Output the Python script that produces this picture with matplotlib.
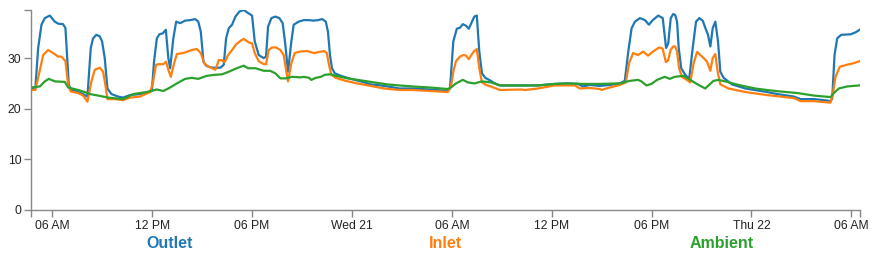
import matplotlib
matplotlib.use("Agg")
import matplotlib.pyplot as plt
import matplotlib.dates as mdates
import matplotlib.ticker as mticker
import pandas as pd

plt.rcParams['font.family'] = ['Liberation Sans', 'DejaVu Sans']

# Hours since Tue 20 00:00 and values (°C)
outlet_h = [4.74, 4.98, 5.15, 5.35, 5.55, 5.85, 6.15, 6.35, 6.65, 6.79, 6.99, 7.15, 7.55, 7.85, 8.11,
            8.31, 8.45, 8.65, 8.85, 8.99, 9.15, 9.31, 9.55, 9.95, 10.25, 10.67, 11.27, 11.77, 11.98,
            12.11, 12.28, 12.43, 12.64, 12.82, 12.97, 13.08, 13.27, 13.44, 13.68, 13.98, 14.28, 14.58,
            14.77, 14.92, 15.08, 15.24, 15.58, 16.10, 16.30, 16.44, 16.60, 16.80, 17.00, 17.24, 17.50,
            17.76, 18.00, 18.16, 18.40, 18.70, 18.84, 18.96, 19.16, 19.40, 19.64, 19.84, 20.00, 20.16,
            20.36, 20.50, 20.80, 21.11, 21.42, 21.68, 21.96, 22.22, 22.43, 22.56, 22.68, 22.80, 22.97,
            23.33, 23.93, 24.53, 25.13, 25.73, 26.33, 26.83, 27.65, 28.65, 29.75, 29.89, 30.09, 30.30,
            30.49, 30.66, 30.85, 31.02, 31.21, 31.35, 31.50, 31.65, 31.81, 32.01, 32.35, 32.47, 32.88,
            34.17, 35.17, 36.18, 36.97, 37.57, 37.87, 38.29, 38.89, 39.49, 40.09, 40.39, 40.60, 40.80,
            41.00, 41.30, 41.60, 41.84, 42.07, 42.40, 42.67, 42.87, 43.00, 43.15, 43.30, 43.42, 43.53,
            43.63, 43.78, 44.02, 44.26, 44.47, 44.67, 44.87, 45.07, 45.27, 45.39, 45.53, 45.67, 45.83,
            45.99, 46.13, 46.33, 46.83, 47.63, 48.93, 49.55, 50.55, 50.95, 51.75, 52.35, 52.75, 52.85,
            52.99, 53.15, 53.39, 53.96, 54.26, 54.50]
outlet_v = [24.2, 23.9, 32.0, 36.6, 37.9, 38.4, 37.2, 36.8, 36.7, 35.9, 24.7, 23.7, 23.3, 22.9, 22.4,
            32.0, 33.9, 34.6, 34.3, 33.3, 30.0, 24.0, 22.9, 22.4, 22.2, 22.7, 22.9, 23.3, 23.5,
            29.3, 33.9, 34.7, 34.9, 35.6, 30.0, 28.0, 33.9, 37.2, 36.9, 37.4, 37.5, 37.7,
            37.2, 35.2, 29.3, 28.5, 28.1, 28.1, 28.7, 33.9, 35.9, 36.6, 38.2, 39.2, 39.5,
            38.9, 38.4, 33.3, 30.6, 30.0, 30.3, 36.2, 37.9, 38.2, 37.9, 36.9, 32.6, 27.3,
            33.3, 36.6, 37.2, 37.5, 37.5, 37.4, 37.5, 37.7, 37.2, 35.2, 30.6, 28.0, 27.0,
            26.5, 25.9, 25.4, 24.8, 24.6, 24.3, 24.0, 24.0, 23.8, 23.5, 24.0, 33.3, 35.8,
            36.0, 36.7, 36.4, 35.8, 37.2, 38.2, 38.4, 31.3, 27.0, 26.1, 25.5, 25.2, 24.6,
            24.6, 24.6, 24.9, 25.0, 24.9, 24.4, 24.7, 24.5, 24.7, 25.0, 25.5, 31.3, 35.9,
            37.2, 37.9, 37.5, 36.6, 37.5, 38.4, 37.9, 32.0, 32.9, 37.9, 38.7, 38.5, 37.2,
            32.0, 28.0, 26.7, 25.9, 32.0, 37.2, 37.9, 37.4, 35.6, 34.6, 32.3, 35.9, 37.2,
            33.3, 27.3, 26.1, 24.8, 24.0, 23.3, 22.9, 22.4, 21.9, 21.9, 21.7, 21.5, 22.0,
            30.6, 33.9, 34.6, 34.7, 35.1, 35.6]

inlet_h = [4.74, 4.98, 5.19, 5.45, 5.75, 6.05, 6.35, 6.55, 6.79, 6.95, 7.11, 7.55, 7.85, 8.11, 8.35,
           8.55, 8.85, 9.05, 9.19, 9.31, 9.75, 10.25, 10.67, 11.27, 11.87, 12.04, 12.23, 12.43, 12.67,
           12.83, 12.97, 13.12, 13.32, 13.48, 13.87, 14.38, 14.68, 14.92, 15.12, 15.38, 15.80, 16.00,
           16.16, 16.36, 16.56, 16.80, 17.04, 17.30, 17.50, 17.80, 18.00, 18.16, 18.40, 18.70, 18.84,
           19.00, 19.20, 19.44, 19.70, 19.90, 20.04, 20.16, 20.36, 20.56, 20.90, 21.30, 21.72, 22.02,
           22.32, 22.49, 22.62, 22.76, 23.03, 23.63, 24.32, 25.13, 25.93, 26.83, 27.65, 28.65, 29.75,
           29.95, 30.09, 30.25, 30.49, 30.69, 30.85, 31.02, 31.21, 31.35, 31.50, 31.65, 31.81, 32.05,
           32.35, 32.88, 34.17, 34.40, 35.17, 36.18, 37.40, 37.68, 38.29, 38.89, 38.99, 39.49, 40.09,
           40.45, 40.65, 40.89, 41.19, 41.49, 41.79, 42.09, 42.45, 42.66, 42.86, 43.00, 43.14, 43.30,
           43.42, 43.53, 43.65, 43.82, 44.12, 44.32, 44.53, 44.73, 44.93, 45.13, 45.33, 45.53, 45.67,
           45.83, 45.97, 46.13, 46.62, 47.63, 48.93, 50.55, 50.95, 51.75, 52.75, 52.91, 53.05, 53.31,
           53.75, 54.15, 54.50]
inlet_v = [23.7, 23.7, 26.7, 30.6, 31.6, 31.0, 30.3, 30.3, 29.4, 24.7, 23.4, 23.1, 22.6, 21.4, 25.4,
           27.7, 28.1, 27.3, 24.7, 21.9, 21.9, 21.7, 22.2, 22.4, 23.3, 25.0, 28.7, 28.8, 28.8,
           29.3, 27.7, 26.3, 29.0, 30.8, 31.0, 31.6, 31.8, 31.0, 29.0, 28.3, 27.7, 29.6,
           29.6, 29.2, 30.6, 31.6, 32.7, 33.4, 33.8, 33.1, 32.9, 31.0, 29.4, 28.8, 28.8,
           31.6, 32.1, 32.1, 31.6, 30.6, 27.7, 25.4, 29.0, 31.0, 31.3, 31.4, 31.0, 31.2,
           31.4, 31.0, 28.7, 26.7, 26.1, 25.5, 25.0, 24.5, 24.0, 23.7, 23.7, 23.5, 23.3,
           24.4, 27.3, 29.4, 30.3, 30.6, 30.5, 29.8, 30.8, 31.4, 31.8, 28.0, 25.2, 24.7,
           24.4, 23.7, 23.8, 23.7, 24.0, 24.6, 24.6, 24.0, 24.1, 23.9, 23.7, 24.2, 24.7,
           25.2, 29.0, 31.0, 30.6, 31.3, 30.5, 31.3, 32.1, 31.9, 29.2, 29.6, 31.6, 32.3,
           32.3, 31.3, 28.0, 26.3, 25.7, 25.2, 29.0, 31.2, 30.6, 30.0, 29.3, 27.5, 30.0,
           30.8, 27.3, 24.8, 24.0, 23.3, 22.7, 22.1, 21.5, 21.5, 21.2, 23.4, 26.3, 28.3,
           28.7, 29.0, 29.4]

ambient_h = [4.74, 5.25, 5.55, 5.79, 6.15, 6.75, 6.95, 7.55, 7.95, 8.25, 8.75, 9.35, 10.25, 10.87,
             11.68, 12.28, 12.67, 13.08, 13.48, 13.98, 14.38, 14.77, 15.28, 15.78, 16.20, 16.60,
             17.00, 17.50, 17.76, 18.20, 18.70, 19.08, 19.40, 19.70, 20.04, 20.40, 20.90, 21.12,
             21.42, 21.56, 21.83, 22.13, 22.37, 22.73, 23.03, 23.73, 24.53, 25.33, 26.13, 26.83,
             27.65, 28.65, 29.75, 29.95, 30.25, 30.66, 30.96, 31.35, 31.81, 32.35, 32.88, 34.17,
             35.17, 36.18, 36.97, 37.87, 38.89, 40.09, 40.69, 41.19, 41.39, 41.69, 41.99, 42.33,
             42.79, 43.09, 43.39, 43.91, 44.32, 44.82, 45.22, 45.42, 45.72, 46.02, 46.43, 47.22,
             48.22, 48.93, 49.75, 50.75, 51.75, 52.75, 52.95, 53.25, 53.75, 54.45]
ambient_v = [24.2, 24.4, 25.4, 25.9, 25.4, 25.3, 24.2, 23.7, 23.3, 22.9, 22.6, 22.2, 21.9, 22.9,
             23.3, 23.8, 23.5, 24.2, 25.0, 25.9, 26.1, 25.9, 26.5, 26.7, 26.8, 27.3,
             27.9, 28.5, 28.0, 28.0, 27.5, 27.5, 27.0, 26.0, 26.0, 26.3, 26.2, 26.3,
             26.1, 25.7, 26.1, 26.3, 26.7, 26.8, 26.5, 26.0, 25.6, 25.2, 24.8, 24.6,
             24.4, 24.2, 23.9, 24.2, 25.0, 25.7, 25.2, 25.0, 25.4, 25.2, 24.6, 24.6,
             24.6, 24.9, 25.0, 24.9, 24.9, 25.0, 25.5, 25.7, 25.4, 24.6, 24.9, 25.7,
             26.3, 25.9, 26.3, 26.5, 25.7, 24.7, 24.0, 24.6, 25.5, 25.7, 25.4, 24.7,
             24.0, 23.7, 23.4, 23.1, 22.6, 22.3, 23.1, 24.0, 24.4, 24.6]

series_names = ["Outlet", "Inlet", "Ambient"]
colors = ["#1f77b4", "#ff7f0e", "#2ca02c"]
x_start_h, x_end_h = 4.72, 54.52
y_max = 39.5
y_ticks = [0, 10, 20, 30]

base = pd.Timestamp("2024-08-20 00:00")
def to_t(hours):
    return [base + pd.Timedelta(hours=h) for h in hours]

fig = plt.figure(figsize=(8.76, 2.59), dpi=100)
ax = fig.add_axes([31/876, 49/259, 829/876, 200/259])

for hs, vs, c in [(outlet_h, outlet_v, colors[0]), (inlet_h, inlet_v, colors[1]),
                  (ambient_h, ambient_v, colors[2])]:
    ax.plot(to_t(hs), vs, color=c, lw=1.6, solid_joinstyle='round')

x0 = base + pd.Timedelta(hours=x_start_h)
x1 = base + pd.Timedelta(hours=x_end_h)
ax.set_xlim(x0, x1)
ax.set_ylim(0, y_max)

for s in ["top", "right"]:
    ax.spines[s].set_visible(False)
for s in ["left", "bottom"]:
    ax.spines[s].set_color("#888888")
    ax.spines[s].set_linewidth(1.0)

ax.xaxis.set_major_locator(mdates.HourLocator(byhour=[0, 6, 12, 18]))
def fmt(x, pos=None):
    d = mdates.num2date(x)
    if d.hour == 0:
        return d.strftime("%a %d")
    return d.strftime("%I %p")
ax.xaxis.set_major_formatter(mticker.FuncFormatter(fmt))
ax.set_xticks([mdates.date2num(x0), mdates.date2num(x1)], minor=True)
ax.set_yticks(y_ticks)
ax.set_yticks([0, y_max], minor=True)

ax.tick_params(axis='both', which='both', color="#888888", length=5, width=1,
               labelsize=8.7, labelcolor="#222222")
ax.tick_params(axis='x', pad=2)
ax.tick_params(axis='y', pad=2)

for i, (name, c) in enumerate(zip(series_names, colors)):
    ax.text((2*i + 1)/6, -0.165, name, transform=ax.transAxes, ha='center', va='center',
            color=c, fontsize=11.5, fontweight='bold')

fig.savefig("out.png", dpi=100)
